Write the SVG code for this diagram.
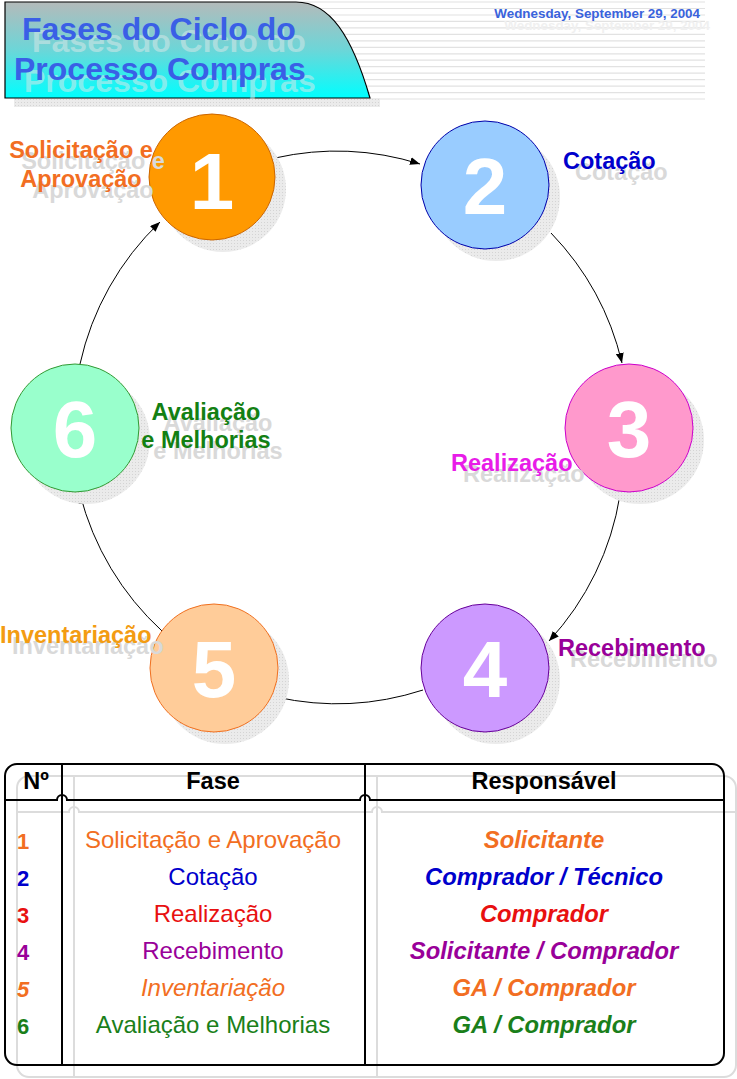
<svg xmlns="http://www.w3.org/2000/svg" width="737" height="1079" viewBox="0 0 737 1079">
<defs>
<linearGradient id="tg" x1="0" y1="0" x2="0" y2="1">
<stop offset="0" stop-color="#B4BABA"/>
<stop offset="0.5" stop-color="#6CD6D8"/>
<stop offset="1" stop-color="#00FFFF"/>
</linearGradient>
<pattern id="dots" width="3" height="3" patternUnits="userSpaceOnUse">
<rect width="3" height="3" fill="#EBEBEB"/>
<rect width="1" height="1" fill="#D4D4D4"/>
</pattern>
<marker id="ah" markerUnits="userSpaceOnUse" markerWidth="10" markerHeight="8" refX="10" refY="4" orient="auto">
<path d="M0,0 L10,4 L0,8 z" fill="#000"/>
</marker>
</defs>
<style>
text{font-family:"Liberation Sans",Arial,sans-serif;}
.b{font-weight:bold;}
.sh{fill:#D9D9D9;}
.num{font-size:80px;font-weight:bold;fill:#fff;text-anchor:middle;}
.lbl{font-size:23.5px;font-weight:bold;}
.csh{fill:url(#dots);}
.arr{fill:none;stroke:#000;stroke-width:1;marker-end:url(#ah);}
.hl{stroke:#E2E2E2;stroke-width:1.2;}
.th{font-size:23.5px;font-weight:bold;fill:#000;text-anchor:middle;}
.rn{font-size:22px;font-weight:bold;}
.fa{font-size:24px;text-anchor:middle;}
.re{font-size:23.8px;font-weight:bold;font-style:italic;text-anchor:middle;}
</style>
<rect width="737" height="1079" fill="#fff"/>

<g id="header">
<g>
<line class="hl" x1="300" y1="2" x2="705" y2="2"/>
<line class="hl" x1="300" y1="8.5" x2="705" y2="8.5"/>
<line class="hl" x1="300" y1="15" x2="705" y2="15"/>
<line class="hl" x1="300" y1="21.4" x2="705" y2="21.4"/>
<line class="hl" x1="300" y1="27.9" x2="705" y2="27.9"/>
<line class="hl" x1="300" y1="34.4" x2="705" y2="34.4"/>
<line class="hl" x1="300" y1="40.8" x2="705" y2="40.8"/>
<line class="hl" x1="300" y1="47.3" x2="705" y2="47.3"/>
<line class="hl" x1="300" y1="53.8" x2="705" y2="53.8"/>
<line class="hl" x1="300" y1="60.2" x2="705" y2="60.2"/>
<line class="hl" x1="300" y1="66.7" x2="705" y2="66.7"/>
<line class="hl" x1="300" y1="73.2" x2="705" y2="73.2"/>
<line class="hl" x1="300" y1="79.6" x2="705" y2="79.6"/>
<line class="hl" x1="300" y1="86.1" x2="705" y2="86.1"/>
<line class="hl" x1="300" y1="92.6" x2="705" y2="92.6"/>
<line class="hl" x1="300" y1="99" x2="705" y2="99"/>
</g>
<rect x="14" y="98" width="366" height="9" fill="url(#dots)"/>
<path d="M5,2 L296,2 C330,2 352,36 370,98 L5,98 Z" fill="url(#tg)" stroke="#000" stroke-width="1.2"/>
<text class="b" x="32" y="52" font-size="32" fill="#D8E8E8" fill-opacity="0.55">Fases do Ciclo do</text>
<text class="b" x="24" y="92" font-size="32" fill="#D8E8E8" fill-opacity="0.55">Processo Compras</text>
<text class="b" x="22" y="40" font-size="32" fill="#3A5FE6">Fases do Ciclo do</text>
<text class="b" x="14" y="80" font-size="32" fill="#3A5FE6">Processo Compras</text>
<text class="b" x="710" y="30" font-size="13.4" fill="#F0F0F0" text-anchor="end">Wednesday, September 29, 2004</text>
<text class="b" x="700" y="18" font-size="13.4" fill="#3A63DC" text-anchor="end">Wednesday, September 29, 2004</text>
</g>

<g id="connectors">
<path class="arr" d="M275,158 A280,280 0 0 1 420,164"/>
<path class="arr" d="M551,233 A280,280 0 0 1 622,363"/>
<path class="arr" d="M620,495 A280,280 0 0 1 549,641"/>
<path class="arr" d="M423,690 A280,280 0 0 1 276,697"/>
<path class="arr" d="M162,631 A280,280 0 0 1 80,494"/>
<path class="arr" d="M80,364 A280,280 0 0 1 160,222"/>
</g>

<g id="node1">
<circle class="csh" cx="223" cy="189" r="63"/>
<circle cx="212" cy="177" r="63" fill="#FF9900" stroke="#CC6600" stroke-width="1"/>
<text class="num" x="212" y="209">1</text>
<text class="lbl sh" x="93" y="169" text-anchor="middle">Solicitação e</text>
<text class="lbl sh" x="93" y="198" text-anchor="middle">Aprovação</text>
<text class="lbl" x="81" y="158" text-anchor="middle" fill="#F26E22">Solicitação e</text>
<text class="lbl" x="81" y="187" text-anchor="middle" fill="#F26E22">Aprovação</text>
</g>

<g id="node2">
<circle class="csh" cx="496" cy="197" r="64"/>
<circle cx="485" cy="185" r="64" fill="#99CCFF" stroke="#0000AA" stroke-width="1"/>
<text class="num" x="485" y="214">2</text>
<text class="lbl sh" x="575" y="180">Cotação</text>
<text class="lbl" x="563" y="169" fill="#0000CC">Cotação</text>
</g>

<g id="node3">
<circle class="csh" cx="640" cy="440" r="64"/>
<circle cx="629" cy="428" r="64" fill="#FF99CC" stroke="#CC00CC" stroke-width="1"/>
<text class="num" x="629" y="457">3</text>
<text class="lbl sh" x="463" y="482">Realização</text>
<text class="lbl" x="451" y="471" fill="#E81CE8">Realização</text>
</g>

<g id="node4">
<circle class="csh" cx="496" cy="680" r="64"/>
<circle cx="485" cy="668" r="64" fill="#CC99FF" stroke="#660099" stroke-width="1"/>
<text class="num" x="485" y="697">4</text>
<text class="lbl sh" x="570" y="667">Recebimento</text>
<text class="lbl" x="558" y="656" fill="#990099">Recebimento</text>
</g>

<g id="node5">
<circle class="csh" cx="225" cy="680" r="64"/>
<circle cx="214" cy="668" r="64" fill="#FFCC99" stroke="#F07020" stroke-width="1"/>
<text class="num" x="214" y="697">5</text>
<text class="lbl sh" x="12" y="654">Inventariação</text>
<text class="lbl" x="0" y="643" fill="#F39C12">Inventariação</text>
</g>

<g id="node6">
<circle class="csh" cx="86" cy="440" r="64"/>
<circle cx="75" cy="428" r="64" fill="#99FFCC" stroke="#339933" stroke-width="1"/>
<text class="num" x="75" y="457">6</text>
<text class="lbl sh" x="218" y="431" text-anchor="middle">Avaliação</text>
<text class="lbl sh" x="218" y="459" text-anchor="middle">e Melhorias</text>
<text class="lbl" x="206" y="420" text-anchor="middle" fill="#138013">Avaliação</text>
<text class="lbl" x="206" y="448" text-anchor="middle" fill="#138013">e Melhorias</text>
</g>

<g id="table">
<g fill="none" stroke="#DCDCDC" stroke-width="2" transform="translate(12,12)">
<rect x="5" y="764" width="719" height="301" rx="12"/>
<path d="M5,800 H57 A5,5 0 0 1 67,800 H360 A5,5 0 0 1 370,800 H724"/>
<line x1="62" y1="764" x2="62" y2="1065"/>
<line x1="365" y1="764" x2="365" y2="1065"/>
</g>
<g fill="none" stroke="#000" stroke-width="2">
<rect x="5" y="764" width="719" height="301" rx="12"/>
<path d="M5,800 H57 A5,5 0 0 1 67,800 H360 A5,5 0 0 1 370,800 H724"/>
<line x1="62" y1="764" x2="62" y2="1065"/>
<line x1="365" y1="764" x2="365" y2="1065"/>
</g>
<text class="th" x="36" y="789">Nº</text>
<text class="th" x="213" y="789">Fase</text>
<text class="th" x="544" y="789">Responsável</text>

<text class="rn" x="17" y="849" fill="#F26E22">1</text>
<text class="fa" x="213" y="848" fill="#F26E22">Solicitação e Aprovação</text>
<text class="re" x="544" y="848" fill="#F26E22">Solicitante</text>

<text class="rn" x="17" y="886" fill="#0000CC">2</text>
<text class="fa" x="213" y="885" fill="#0000CC">Cotação</text>
<text class="re" x="544" y="885" fill="#0000CC">Comprador / Técnico</text>

<text class="rn" x="17" y="923" fill="#E81010">3</text>
<text class="fa" x="213" y="922" fill="#E81010">Realização</text>
<text class="re" x="544" y="922" fill="#E81010">Comprador</text>

<text class="rn" x="17" y="960" fill="#990099">4</text>
<text class="fa" x="213" y="959" fill="#990099">Recebimento</text>
<text class="re" x="544" y="959" fill="#990099">Solicitante / Comprador</text>

<text class="rn" x="17" y="997" fill="#F26E22" font-style="italic">5</text>
<text class="fa" x="213" y="996" fill="#F26E22" font-style="italic">Inventariação</text>
<text class="re" x="544" y="996" fill="#F26E22">GA / Comprador</text>

<text class="rn" x="17" y="1034" fill="#1A7F1A">6</text>
<text class="fa" x="213" y="1033" fill="#1A7F1A">Avaliação e Melhorias</text>
<text class="re" x="544" y="1033" fill="#1A7F1A">GA / Comprador</text>
</g>
</svg>
